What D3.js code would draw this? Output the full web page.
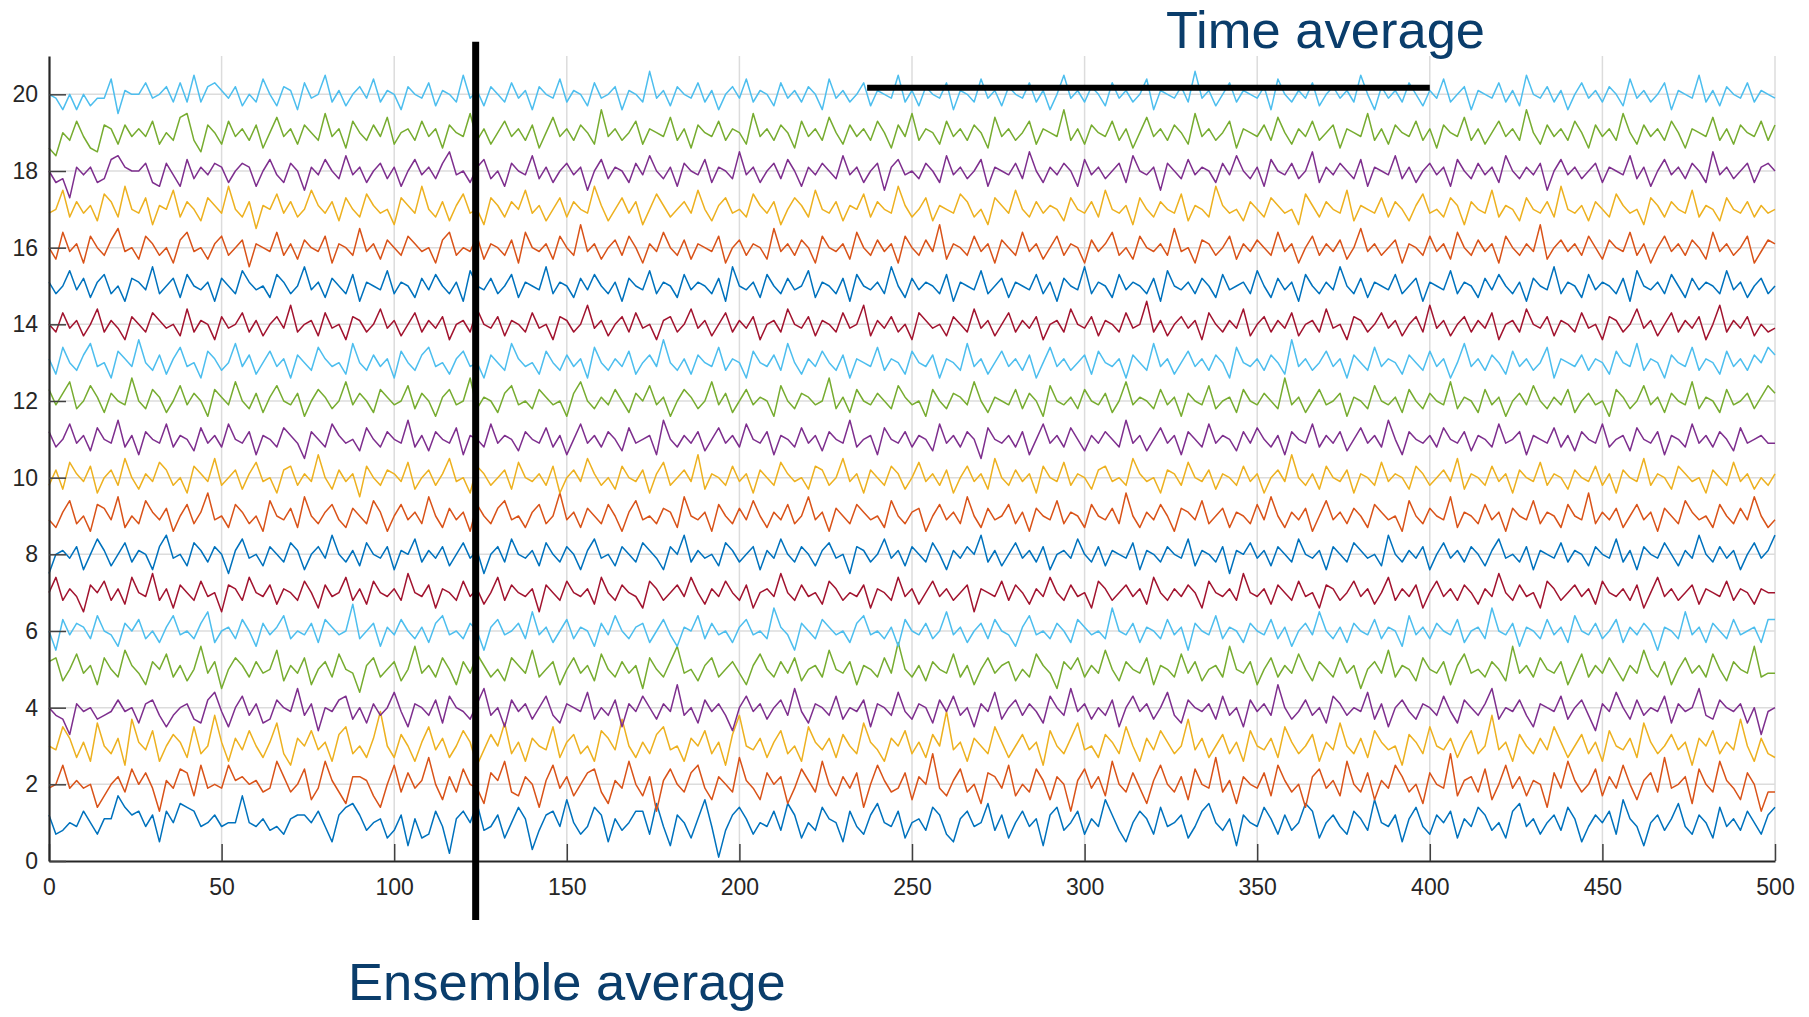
<!DOCTYPE html>
<html>
<head>
<meta charset="utf-8">
<script src="https://cdn.jsdelivr.net/npm/d3@7"></script>
<style>
  html, body { margin: 0; padding: 0; background: #fff; }
  svg { display: block; font-family: "Liberation Sans", Arial, sans-serif; }
</style>
</head>
<body>
<div id="grafico"></div>
<script>
// ticks
const xTicks = [0, 50, 100, 150, 200, 250, 300, 350, 400, 450, 500];
const yTicks = [0, 2, 4, 6, 8, 10, 12, 14, 16, 18, 20];

// annotations (data coords)
const ensembleX = 123.6;
const ensembleY = [21.37, -1.54];
const timeAvgX = [237, 400];
const timeAvgY = 20.17;

// series, one realisation per level
const s01 = [1.2,0.7,0.8,1.0,0.9,1.3,1.0,0.7,1.1,1.1,1.7,1.4,1.2,1.3,0.9,1.2,0.5,1.3,1.0,1.5,1.4,1.3,0.9,1.0,1.2,
0.9,1.0,1.0,1.7,1.0,0.9,1.1,0.8,0.9,0.7,1.1,1.2,1.2,1.0,1.3,0.9,0.5,1.2,1.4,1.5,1.2,0.8,1.0,1.1,0.6,
0.8,1.2,0.4,1.1,0.6,0.7,1.3,0.9,0.2,1.1,1.3,1.0,1.5,0.8,0.9,1.2,0.6,1.0,1.4,1.1,0.3,0.8,1.2,1.3,0.9,
1.6,1.0,0.7,0.9,1.4,1.2,0.5,1.1,0.8,1.0,1.3,1.3,0.7,1.5,0.9,0.4,1.2,1.0,0.6,1.1,1.6,0.9,0.1,0.8,1.2,
1.4,1.1,0.7,1.0,0.9,1.3,0.8,1.5,1.2,0.6,1.0,0.8,1.4,1.1,1.0,0.5,1.3,0.9,0.7,1.2,1.5,1.0,0.9,1.3,0.6,
1.0,1.1,0.8,1.4,1.2,0.7,0.5,1.1,1.3,0.9,1.0,1.5,0.8,1.2,0.6,1.0,1.3,0.9,1.1,0.4,1.2,1.4,0.8,1.0,1.3,
0.7,1.1,0.9,1.6,1.2,0.8,0.5,1.0,1.3,1.1,0.7,1.4,0.9,1.0,1.2,0.6,0.9,1.3,1.5,1.0,0.8,1.1,0.4,1.2,1.0,
0.9,1.4,1.1,0.7,1.2,0.8,1.0,1.5,1.3,0.6,1.0,1.2,0.9,0.7,1.3,1.1,0.8,1.6,1.0,0.9,1.2,0.5,1.1,1.4,0.9,
0.7,1.2,1.0,1.3,0.6,1.1,0.9,1.4,1.2,0.8,1.0,0.6,1.3,1.5,0.9,1.1,0.7,1.0,1.2,0.8,1.4,1.1,0.5,0.9,1.2,
1.0,1.3,0.7,1.6,1.1,0.9,0.4,1.0,1.2,0.8,1.1,1.5,0.9,0.7,1.2,1.0,0.6,1.4,0.9,1.1,0.8,1.3,1.0,0.7,1.2,
1.4];
const s02 = [1.9,2.0,2.5,1.9,2.1,1.9,2.0,1.4,1.7,2.0,2.2,1.8,2.4,2.0,2.3,1.9,1.3,2.1,1.9,2.4,2.3,1.7,2.5,1.9,2.0,
1.9,2.5,2.1,2.2,2.0,2.1,1.8,1.9,2.6,2.2,1.8,2.0,2.4,1.6,1.9,2.6,2.1,1.8,1.5,2.2,2.2,2.1,1.7,1.4,2.0,
2.5,1.8,2.3,1.9,2.1,2.7,2.0,1.6,2.2,1.8,2.4,2.0,1.9,1.5,2.3,2.1,2.6,1.8,1.7,2.2,2.0,1.4,2.1,2.5,1.9,
2.2,1.7,2.0,2.3,2.4,1.8,1.5,2.1,1.9,2.6,2.0,1.7,2.2,1.3,2.1,2.4,2.0,1.8,2.3,2.5,1.9,1.6,2.2,2.0,1.8,
2.7,2.1,1.9,1.6,2.3,2.0,2.2,1.5,1.9,2.4,2.1,1.8,2.6,2.0,1.7,2.2,1.9,2.3,1.4,2.0,2.5,2.1,1.8,1.9,2.3,
1.6,2.2,2.0,2.8,1.9,1.7,2.1,2.4,1.8,2.0,1.5,2.3,2.2,1.9,2.5,1.7,2.0,1.8,2.4,2.1,1.6,2.2,2.0,1.3,2.1,
2.4,1.9,2.2,1.7,2.6,2.0,1.8,2.3,1.9,1.5,2.1,2.5,2.0,1.8,2.2,1.6,2.4,2.0,1.9,2.7,1.8,2.1,1.5,2.2,2.0,
1.9,2.3,1.7,2.5,2.1,1.8,2.0,1.4,2.2,2.4,1.9,2.1,1.7,2.6,2.0,1.8,2.3,1.6,2.1,1.9,2.5,2.2,1.8,2.0,1.5,
2.3,2.0,1.9,2.8,1.7,2.1,2.2,1.8,2.4,1.6,2.0,2.5,1.9,2.2,1.7,2.1,2.0,1.4,2.3,1.9,2.6,2.1,1.8,2.0,2.4,
1.7,2.2,1.9,2.5,2.0,1.6,2.1,2.3,1.8,2.7,1.9,2.0,2.2,1.5,2.4,2.0,1.8,2.6,2.1,1.9,1.6,2.3,2.0,1.3,1.8,
1.8];
const s03 = [3.0,2.9,3.5,3.2,2.7,3.1,2.6,3.6,3.0,2.8,3.2,2.5,3.7,3.1,2.9,3.4,2.6,3.0,3.3,3.1,2.7,3.5,2.8,3.0,3.8,
3.1,2.6,3.2,2.9,3.4,3.0,2.7,3.1,3.6,2.8,2.5,3.2,3.0,3.4,2.9,3.1,2.6,3.3,3.5,2.8,3.0,2.7,3.2,3.9,3.0,
2.7,3.3,3.0,2.6,3.1,3.5,2.9,3.2,2.7,3.0,3.4,3.1,2.5,2.9,3.3,3.0,3.6,2.8,3.1,2.6,3.2,3.0,2.9,3.5,2.7,
3.1,3.3,2.8,3.0,2.6,3.4,3.2,2.9,3.7,3.0,2.7,3.1,2.8,3.3,3.5,2.9,3.0,2.6,3.2,3.0,3.4,2.8,3.1,2.5,3.3,
3.8,3.0,2.9,3.2,2.7,3.1,3.4,2.8,3.0,2.6,3.5,3.1,2.9,3.2,2.7,3.3,3.0,2.8,3.6,3.1,2.9,2.6,3.2,3.0,3.4,
2.8,3.1,2.7,3.3,3.0,3.9,2.9,3.1,2.6,3.2,3.0,2.8,3.5,3.1,2.7,3.0,3.3,2.9,3.1,2.5,3.4,3.0,2.8,3.2,3.6,
2.9,3.0,2.7,3.3,3.1,2.8,3.5,3.0,2.6,3.2,2.9,3.4,3.1,2.8,3.0,3.7,2.9,3.2,2.7,3.0,3.3,2.8,3.1,2.6,3.4,
3.0,2.9,3.2,2.7,3.5,3.1,2.8,3.0,3.3,2.6,3.1,2.9,3.6,3.0,2.8,3.2,2.7,3.4,3.1,2.9,3.0,2.5,3.3,3.1,2.8,
3.5,3.0,2.9,3.2,2.7,3.1,3.4,2.8,3.0,3.8,2.9,3.1,2.6,3.3,3.0,2.8,3.2,2.9,3.5,3.1,2.7,3.0,3.3,2.8,3.1,
2.6,3.4,3.0,2.9,3.2,2.7,3.6,3.1,2.8,3.0,3.3,2.9,3.1,2.5,3.2,3.0,3.4,2.8,3.1,2.9,3.7,3.0,2.6,3.2,2.8,
2.7];
const s04 = [4.0,3.8,3.7,3.3,4.1,3.9,4.0,3.7,3.8,3.9,4.2,3.9,4.0,3.6,4.1,4.2,3.8,3.5,3.8,4.0,4.1,3.7,3.6,4.2,4.4,
3.9,3.5,4.0,4.3,3.8,4.1,3.6,3.7,4.2,4.0,3.9,4.5,3.8,4.1,3.4,4.0,3.9,4.2,4.3,3.7,4.0,3.6,4.1,3.8,4.0,
4.4,3.9,3.5,4.1,4.0,3.8,4.2,3.6,4.3,4.0,3.9,3.7,4.1,4.5,3.8,4.0,3.5,4.2,3.9,4.1,3.7,4.0,4.3,3.8,3.6,
4.1,4.0,3.9,4.4,3.7,4.0,3.8,4.2,3.5,4.1,3.9,4.3,4.0,3.7,4.1,3.9,4.6,3.8,4.0,3.6,4.2,3.9,4.1,3.8,3.4,
4.0,4.3,3.9,4.1,3.7,4.0,4.2,3.8,4.5,3.9,3.6,4.1,4.0,3.8,4.3,3.7,4.0,3.9,4.2,3.5,4.1,4.0,3.8,4.4,3.9,
3.7,4.1,4.0,3.6,4.2,3.9,4.3,3.8,4.0,3.5,4.1,3.9,4.4,3.7,4.0,4.2,3.8,4.1,3.9,3.6,4.3,4.0,3.8,4.5,3.9,
4.1,3.7,4.0,3.8,4.2,3.5,4.0,4.3,3.9,4.1,3.7,4.0,4.4,3.8,3.6,4.2,4.0,3.9,4.1,3.7,4.3,3.8,4.0,3.5,4.2,
3.9,4.1,3.8,4.6,4.0,3.7,3.9,4.2,3.8,4.0,3.6,4.3,4.1,3.8,4.0,3.9,4.4,3.7,4.1,3.5,4.0,4.2,3.9,3.7,4.1,
4.0,3.8,4.3,3.9,3.6,4.2,4.0,3.8,4.1,4.5,3.7,4.0,3.9,4.2,3.8,3.5,4.1,4.0,3.9,4.3,3.7,4.0,4.2,3.8,3.4,
4.1,3.9,4.4,4.0,3.7,4.2,3.8,4.0,3.9,4.3,3.6,4.1,3.9,4.0,4.5,3.8,3.7,4.2,4.0,3.9,4.1,3.6,4.0,3.3,3.9,
4.0];
const s05 = [5.2,5.3,4.7,5.0,5.4,4.9,5.1,4.6,5.3,5.0,4.8,5.5,5.1,4.9,4.6,5.2,5.0,5.4,4.8,5.1,4.7,5.0,5.6,4.9,5.2,
4.5,5.0,5.3,5.1,4.8,5.2,4.9,5.0,5.5,4.7,5.1,4.9,5.3,4.6,5.0,5.2,4.8,5.4,5.0,4.9,4.4,5.1,5.3,4.8,5.0,
5.2,4.7,5.0,5.6,4.9,5.1,4.8,5.3,5.0,4.6,5.2,4.9,5.4,5.1,4.8,5.0,4.7,5.3,5.1,4.9,5.5,4.8,5.0,5.2,4.6,
5.0,5.3,4.9,5.1,4.7,5.4,5.0,4.8,5.2,4.9,5.1,4.5,5.3,5.0,4.8,5.2,5.6,4.9,5.0,4.7,5.1,5.3,4.8,5.0,5.2,
4.9,4.6,5.1,5.4,5.0,4.8,5.2,4.9,5.3,4.7,5.0,5.1,4.8,5.5,5.0,4.9,5.2,4.6,5.1,5.0,4.8,5.3,4.9,5.7,5.0,
4.8,5.1,4.7,5.2,5.0,4.9,5.4,4.8,5.1,4.6,5.0,5.3,4.9,5.1,5.2,4.7,5.0,4.8,5.4,5.1,4.9,4.5,5.2,5.0,5.3,
4.8,5.1,4.9,5.5,5.0,4.7,5.2,5.0,4.9,5.3,4.6,5.1,5.0,4.8,5.4,4.9,5.2,4.7,5.0,5.1,4.8,5.6,5.0,4.9,5.2,
4.6,5.0,5.3,4.8,5.1,4.9,5.4,5.0,4.7,5.2,5.0,4.8,5.3,4.9,5.1,4.5,5.0,5.2,4.9,5.5,4.8,5.1,5.0,4.7,5.3,
5.0,4.9,5.2,4.6,5.1,5.4,4.9,5.0,4.8,5.2,5.0,4.7,5.6,4.9,5.1,4.8,5.3,5.0,4.9,5.2,4.6,5.0,5.4,4.8,5.1,
4.9,5.3,5.0,4.7,5.1,4.9,5.5,5.0,4.8,5.2,4.6,5.0,5.3,4.9,5.1,4.8,5.4,5.0,4.7,5.2,5.0,4.9,5.6,4.8,4.9,
4.9];
const s06 = [6.0,5.5,6.3,5.9,6.2,6.1,5.8,6.4,6.0,5.9,5.6,6.2,6.0,6.3,5.8,6.0,5.7,6.1,6.4,5.9,6.0,5.8,6.2,6.5,5.7,
6.0,6.1,5.8,6.3,6.0,5.6,6.2,5.9,6.1,6.4,5.8,6.0,5.9,6.2,5.7,6.3,6.1,5.9,6.0,6.7,5.8,6.0,6.2,5.6,6.1,
5.9,6.3,6.0,5.8,6.1,5.7,6.2,6.4,5.9,6.0,5.8,6.2,6.0,5.5,6.1,6.3,5.9,6.0,6.2,5.8,6.5,5.9,6.1,5.7,6.0,
6.3,5.8,6.1,6.0,5.6,6.2,5.9,6.4,6.0,5.8,6.1,6.2,5.7,6.0,6.3,5.9,5.6,6.1,6.0,6.4,5.8,6.2,5.9,6.0,5.7,
6.1,6.3,5.9,6.0,5.8,6.6,6.1,5.9,5.5,6.2,6.0,5.8,6.3,6.1,5.9,6.0,5.7,6.2,6.4,5.9,6.0,5.8,6.1,5.6,6.3,
6.0,5.9,6.2,5.8,6.0,6.5,5.9,6.1,5.7,6.0,6.2,5.8,6.3,6.0,5.9,5.6,6.1,6.4,5.9,6.0,5.8,6.2,6.0,5.7,6.3,
6.1,5.9,6.0,5.8,6.6,6.0,5.9,6.2,5.7,6.1,6.0,5.8,6.3,5.9,6.1,5.5,6.2,6.0,5.9,6.4,5.8,6.1,6.0,5.7,6.2,
6.0,5.9,6.3,5.8,6.1,5.6,6.0,6.2,5.9,6.5,6.0,5.8,6.1,5.7,6.2,6.0,5.9,6.3,5.8,6.1,6.0,5.6,6.4,5.9,6.1,
5.8,6.2,6.0,5.9,6.3,5.7,6.0,6.1,5.8,6.6,6.0,5.9,6.2,5.6,6.1,6.0,5.8,6.3,5.9,6.1,5.7,6.4,6.0,5.9,6.2,
5.8,6.0,6.3,5.7,6.1,5.9,6.2,6.0,5.5,6.1,6.0,5.8,6.5,5.9,6.1,5.7,6.2,6.0,5.8,6.3,5.9,6.0,6.1,5.7,6.3,
6.3];
const s07 = [7.0,7.4,6.8,7.1,6.9,6.5,7.2,7.0,7.3,6.8,7.1,6.7,7.4,7.0,6.9,7.5,6.8,7.1,6.6,7.2,7.0,6.8,7.3,6.9,7.0,
6.5,7.2,7.1,6.8,7.4,7.0,6.9,7.2,6.7,7.1,7.0,6.8,7.3,7.0,6.6,7.2,6.9,7.0,7.4,6.8,7.1,6.7,7.3,7.0,6.9,
7.1,6.8,7.5,7.0,6.9,7.2,6.6,7.1,7.0,6.8,7.3,6.9,7.1,6.7,7.0,7.4,6.8,7.2,7.0,6.9,7.1,6.5,7.2,7.0,6.8,
7.3,7.0,6.9,7.1,6.7,7.4,7.0,6.8,7.2,7.0,6.9,6.6,7.3,7.1,6.8,7.0,7.2,6.9,7.4,7.0,6.7,7.1,6.9,7.3,7.0,
6.8,7.2,6.6,7.0,7.1,6.9,7.5,7.0,6.8,7.2,6.9,7.0,6.7,7.3,7.1,6.8,7.0,6.9,7.2,6.6,7.1,7.0,6.8,7.4,6.9,
7.1,6.7,7.0,7.3,6.9,7.1,6.8,7.0,7.2,6.5,7.1,7.0,6.9,7.3,6.8,7.2,7.0,6.7,7.1,6.9,7.4,7.0,6.8,7.2,6.9,
7.0,6.6,7.3,7.1,6.8,7.0,7.2,6.9,7.1,6.7,7.4,7.0,6.8,7.1,6.9,7.2,7.0,6.6,7.3,7.0,6.9,7.1,6.8,7.5,7.0,
6.9,7.1,6.7,7.2,7.0,6.8,7.3,6.9,7.0,6.6,7.2,7.1,6.8,7.0,7.3,6.9,7.1,6.7,7.0,7.4,6.8,7.1,6.9,7.2,6.6,
7.0,7.3,6.9,7.1,6.8,7.2,7.0,6.7,7.1,6.9,7.5,7.0,6.8,7.2,6.9,7.0,6.6,7.3,7.1,6.8,7.0,7.2,6.9,7.1,6.7,
7.3,7.0,6.9,7.1,6.8,7.2,6.6,7.0,7.4,6.9,7.1,6.8,7.0,7.2,6.7,7.1,7.0,6.9,7.3,6.8,7.1,7.0,6.7,7.1,7.0,
7.0];
const s08 = [7.5,8.0,8.1,7.9,8.2,7.6,8.0,8.4,8.1,7.7,8.0,8.3,7.8,8.1,8.0,7.6,8.2,8.5,7.9,8.0,7.7,8.3,8.1,7.8,8.2,
8.0,7.5,8.1,8.4,7.9,8.0,7.7,8.2,8.0,7.8,8.3,8.1,7.6,8.0,8.2,7.9,8.5,8.0,7.8,8.1,7.7,8.3,8.0,7.9,8.2,
7.6,8.1,8.0,8.4,7.8,8.1,7.9,8.2,7.7,8.0,8.3,7.9,8.1,7.5,8.0,8.2,7.8,8.4,8.0,7.9,8.1,7.7,8.3,8.0,7.8,
8.2,8.0,7.6,8.1,8.4,7.9,8.0,7.7,8.2,8.0,7.8,8.3,8.1,7.9,7.6,8.2,8.0,8.5,7.8,8.1,7.9,8.0,7.7,8.3,8.1,
7.8,8.0,8.2,7.6,8.1,7.9,8.4,8.0,7.8,8.2,8.0,7.7,8.1,8.3,7.9,8.0,7.5,8.2,8.1,7.8,8.0,8.4,7.9,8.1,7.7,
8.2,8.0,7.8,8.3,8.0,7.6,8.1,7.9,8.2,8.0,8.5,7.8,8.1,7.7,8.0,8.3,7.9,8.1,7.8,8.2,7.6,8.0,8.1,7.9,8.4,
8.0,7.8,8.2,7.7,8.1,8.0,7.9,8.3,7.6,8.1,8.0,7.8,8.2,8.0,7.9,8.4,7.7,8.1,8.0,7.8,8.2,7.5,8.1,8.0,8.3,
7.9,8.1,7.7,8.2,8.0,7.8,8.4,8.0,7.9,8.1,7.6,8.2,8.0,7.8,8.3,8.1,7.9,8.0,7.7,8.5,8.0,7.8,8.1,7.9,8.2,
7.6,8.0,8.3,7.9,8.1,7.8,8.2,8.0,7.7,8.1,8.4,7.9,8.0,7.8,8.2,7.6,8.1,8.0,7.9,8.3,7.8,8.1,8.0,7.7,8.2,
8.0,7.9,8.4,7.8,8.1,7.6,8.2,8.0,7.9,8.3,8.0,7.7,8.1,7.9,8.5,8.0,7.8,8.2,7.9,8.1,7.6,8.0,8.3,7.9,8.1,
8.5];
const s09 = [8.9,8.7,9.1,9.4,8.8,9.0,8.6,9.3,9.2,8.9,9.5,8.7,9.0,8.8,9.4,9.1,8.9,9.2,8.6,9.0,9.3,8.8,9.1,9.6,8.9,
9.0,8.7,9.3,9.1,8.8,9.0,8.6,9.4,9.0,8.9,9.2,8.7,9.5,9.0,8.8,9.1,9.3,8.9,8.7,9.2,9.0,8.8,9.4,9.1,8.6,
9.0,9.3,8.9,9.1,8.8,9.5,9.0,8.7,9.2,8.9,9.1,8.6,9.3,9.0,8.8,9.2,9.4,8.9,9.0,8.7,9.1,9.3,8.8,9.0,9.6,
8.9,9.1,8.7,9.2,9.0,8.8,9.3,9.0,8.6,9.1,9.4,8.9,9.0,8.8,9.2,9.1,8.7,9.5,9.0,8.9,9.1,8.6,9.3,9.0,8.8,
9.2,8.9,9.4,9.0,8.7,9.1,8.9,9.3,8.8,9.0,9.5,8.9,9.1,8.6,9.2,9.0,8.8,9.3,9.1,8.9,9.0,8.7,9.4,9.0,8.8,
9.1,9.2,8.6,9.0,9.3,8.9,9.1,8.8,9.5,9.0,8.7,9.2,8.9,9.0,9.3,8.8,9.1,8.6,9.2,9.0,8.9,9.4,8.8,9.1,9.0,
8.7,9.3,9.0,8.9,9.2,8.8,9.6,9.0,8.7,9.1,8.9,9.3,9.0,8.6,9.2,9.1,8.9,9.4,8.8,9.0,9.2,8.7,9.1,9.0,8.8,
9.3,8.9,9.5,9.0,8.7,9.1,8.9,9.2,8.6,9.0,9.4,8.9,9.1,8.8,9.2,9.0,8.7,9.3,9.1,8.9,9.0,8.6,9.4,9.0,8.8,
9.2,9.0,8.9,9.5,8.7,9.1,9.0,8.8,9.3,8.9,9.1,8.6,9.2,9.0,8.9,9.4,8.8,9.1,9.0,8.7,9.3,9.0,8.9,9.6,8.8,
9.1,8.9,9.2,8.7,9.0,9.3,8.9,9.1,8.6,9.2,9.0,8.8,9.4,9.1,8.9,9.0,8.7,9.3,9.0,8.8,9.2,8.9,9.5,9.0,8.7,
8.9];
const s10 = [9.8,10.2,9.7,10.4,10.1,9.9,10.3,9.6,10.0,10.2,9.8,10.5,10.0,9.7,10.1,9.9,10.4,10.2,9.8,10.0,9.6,10.3,10.1,9.9,10.5,
9.8,10.0,10.2,9.7,10.1,10.4,9.9,10.0,9.6,10.2,10.3,9.8,10.1,9.9,10.6,10.0,9.7,10.2,9.9,10.1,9.5,10.3,10.0,9.8,10.2,
10.1,9.9,10.4,9.7,10.0,10.2,9.8,10.1,10.5,9.9,10.0,9.6,10.3,10.1,9.8,10.0,10.2,9.7,10.4,10.0,9.9,10.1,9.8,10.3,9.6,
10.0,10.2,9.9,10.5,10.1,9.8,10.0,9.7,10.3,10.0,9.9,10.2,9.6,10.1,10.4,9.8,10.0,10.2,9.9,10.6,9.7,10.1,10.0,9.8,10.3,
9.9,10.1,9.6,10.2,10.0,9.8,10.4,10.1,9.9,10.0,9.7,10.3,10.2,9.8,10.0,10.5,9.9,10.1,9.6,10.2,10.0,9.8,10.3,10.1,9.7,
10.0,10.4,9.9,10.1,9.8,10.2,9.6,10.0,10.3,9.9,10.1,9.7,10.5,10.0,9.8,10.2,9.9,10.1,9.6,10.3,10.0,9.9,10.4,9.8,10.1,
10.0,9.7,10.2,10.3,9.9,10.0,9.8,10.5,10.1,9.9,10.0,9.6,10.2,10.1,9.8,10.4,10.0,9.9,10.2,9.7,10.1,10.0,9.8,10.3,9.9,
10.1,9.6,10.0,10.2,9.9,10.6,10.0,9.8,10.1,9.7,10.3,10.0,9.9,10.2,9.6,10.1,10.0,9.8,10.4,9.9,10.1,10.0,9.7,10.3,10.1,
9.8,10.0,10.2,9.9,10.5,9.7,10.1,10.0,9.8,10.3,9.9,10.1,9.6,10.2,10.0,9.9,10.4,9.8,10.1,10.0,9.7,10.2,10.0,9.9,10.3,
9.8,10.1,9.6,10.2,10.0,9.9,10.5,9.8,10.1,10.0,9.7,10.3,10.1,9.9,10.0,9.6,10.2,10.0,9.8,10.4,9.9,10.1,9.7,10.0,9.8,
10.1];
const s11 = [11.2,10.8,11.0,11.4,10.9,11.1,10.7,11.3,11.0,10.9,11.5,10.8,11.1,10.6,11.2,11.0,10.9,11.4,10.8,11.1,11.0,10.7,11.3,10.9,11.1,
10.8,11.4,11.0,10.9,11.2,10.6,11.1,11.0,10.8,11.3,11.1,10.9,10.5,11.2,11.0,10.8,11.4,11.1,10.9,11.0,10.7,11.3,11.0,10.8,11.2,
11.0,10.9,11.5,10.8,11.1,10.7,11.2,11.0,10.9,11.3,10.6,11.1,11.0,10.8,11.4,10.9,11.1,11.0,10.7,11.2,11.0,10.9,11.3,10.8,11.1,
10.6,11.0,11.4,10.9,11.1,10.8,11.2,11.0,10.7,11.3,10.9,11.0,11.1,10.6,11.5,11.0,10.8,11.1,10.9,11.2,10.7,11.0,11.3,10.9,11.1,
10.8,11.4,11.0,10.9,11.2,10.6,11.1,11.0,10.8,11.3,10.9,11.1,10.7,11.2,11.0,10.9,11.5,10.8,11.0,11.1,10.6,11.3,11.0,10.9,11.2,
10.8,11.1,11.0,10.7,11.4,10.9,11.1,10.8,11.2,11.0,10.5,11.3,11.0,10.9,11.1,10.8,11.2,10.6,11.0,11.4,10.9,11.1,10.8,11.3,11.0,
10.7,11.1,10.9,11.2,11.0,10.8,11.5,10.9,11.1,10.7,11.0,11.3,10.9,11.1,10.6,11.2,11.0,10.8,11.4,10.9,11.1,11.0,10.7,11.2,10.9,
11.3,11.0,10.8,11.1,10.6,11.2,11.0,10.9,11.4,10.8,11.1,10.9,11.2,10.7,11.0,11.3,10.9,11.1,10.8,11.5,11.0,10.6,11.2,11.0,10.9,
11.1,10.8,11.3,11.0,10.9,11.2,10.7,11.1,11.0,10.8,11.4,10.9,11.0,11.2,10.6,11.1,11.0,10.9,11.3,10.8,11.1,10.7,11.2,11.0,10.9,
11.4,10.8,11.0,11.1,10.7,11.3,11.0,10.9,11.2,10.6,11.1,11.0,10.8,11.4,10.9,11.1,10.8,11.2,11.0,10.7,11.3,10.9,11.0,11.1,10.9,
10.9];
const s12 = [12.3,11.9,12.2,12.5,11.8,12.0,12.4,12.1,11.7,12.2,12.0,11.9,12.6,12.0,11.8,12.3,12.1,11.7,12.0,12.4,11.9,12.2,12.0,11.6,12.3,
12.1,11.9,12.5,12.0,11.8,12.2,11.7,12.1,12.4,12.0,11.9,12.2,11.6,12.0,12.3,12.1,11.8,12.0,12.5,11.9,12.2,12.0,11.7,12.3,12.1,
11.9,12.0,12.4,11.8,12.2,12.0,11.6,12.1,12.3,11.9,12.0,12.6,11.8,12.1,12.0,11.7,12.2,12.4,11.9,12.0,11.8,12.3,12.1,11.9,12.0,
11.6,12.2,12.5,12.0,11.8,12.1,11.9,12.3,12.0,11.7,12.2,12.0,12.4,11.9,12.1,11.6,12.0,12.3,12.1,11.8,12.0,12.5,11.9,12.2,11.7,
12.0,12.3,11.9,12.1,12.0,11.6,12.4,12.0,11.8,12.2,12.1,11.9,12.0,12.6,11.8,12.1,11.7,12.3,12.0,11.9,12.2,12.0,11.8,12.4,12.1,
11.9,12.0,11.6,12.3,12.0,11.8,12.2,12.1,11.9,12.5,12.0,11.7,12.1,12.0,11.9,12.3,11.8,12.2,12.0,11.6,12.4,12.0,11.9,12.1,11.8,
12.3,12.0,11.9,12.2,11.7,12.0,12.5,11.9,12.1,12.0,11.8,12.3,11.9,12.1,11.6,12.2,12.0,11.9,12.4,11.8,12.0,12.1,11.7,12.3,12.0,
11.9,12.2,12.0,11.8,12.6,11.9,12.1,11.7,12.0,12.3,11.9,12.0,12.2,11.6,12.1,12.0,11.8,12.4,12.0,11.9,12.1,11.7,12.3,12.0,11.8,
12.2,12.0,11.9,12.5,11.8,12.1,12.0,11.7,12.3,11.9,12.1,11.6,12.0,12.2,11.9,12.4,12.0,11.8,12.1,11.9,12.3,11.7,12.0,12.2,11.9,
12.0,11.6,12.3,12.1,11.8,12.0,12.4,11.9,12.1,11.7,12.2,12.0,11.9,12.5,11.8,12.1,12.0,11.7,12.3,11.9,12.0,12.2,11.8,12.1,12.4,
12.2];
const s13 = [13.1,12.7,13.4,13.0,12.8,13.2,13.5,12.9,13.0,12.6,13.3,13.1,12.9,13.6,13.0,12.8,13.2,12.7,13.1,13.4,12.9,13.0,12.6,13.3,13.1,
12.8,13.0,13.5,12.9,13.2,12.7,13.0,13.3,12.9,13.1,12.6,13.2,13.0,12.8,13.4,13.1,12.9,13.0,12.7,13.5,13.0,12.8,13.2,12.9,13.1,
12.6,13.3,13.0,12.8,13.2,13.4,12.9,13.0,12.7,13.1,13.3,12.9,13.0,12.6,13.2,13.0,12.8,13.5,13.1,12.9,13.0,12.7,13.3,13.0,12.8,
13.2,12.9,13.1,12.6,13.4,13.0,12.8,13.1,12.9,13.3,12.7,13.0,13.2,12.9,13.6,13.0,12.8,13.1,12.7,13.2,13.0,12.9,13.4,12.8,13.1,
13.0,12.6,13.3,13.0,12.9,13.2,12.8,13.5,13.0,12.7,13.1,12.9,13.3,13.0,12.8,13.2,12.6,13.1,13.0,12.9,13.4,12.8,13.1,13.0,12.7,
13.3,13.0,12.9,13.2,12.6,13.1,13.0,12.8,13.5,12.9,13.1,12.7,13.0,13.3,12.9,13.1,12.8,13.2,12.6,13.0,13.4,12.9,13.1,12.8,13.0,
13.2,12.7,13.3,13.0,12.9,13.1,12.6,13.2,13.0,12.8,13.5,12.9,13.1,12.7,13.0,13.3,12.9,13.1,12.8,13.2,13.0,12.6,13.4,13.0,12.9,
13.1,12.8,13.2,13.0,12.7,13.6,12.9,13.1,12.8,13.0,13.3,12.9,13.1,12.6,13.2,13.0,12.8,13.4,12.9,13.1,13.0,12.7,13.2,13.0,12.8,
13.3,12.9,13.1,12.6,13.0,13.5,12.9,13.1,12.8,13.2,13.0,12.7,13.3,12.9,13.1,12.8,13.0,13.4,12.6,13.1,13.0,12.9,13.2,12.8,13.1,
13.0,12.7,13.3,13.0,12.9,13.5,12.8,13.1,13.0,12.6,13.2,13.0,12.9,13.4,12.8,13.1,13.0,12.7,13.3,12.9,13.1,12.8,13.2,13.0,13.4,
13.2];
const s14 = [14.0,13.8,14.3,13.9,14.1,13.7,14.0,14.4,13.8,14.1,13.9,13.6,14.2,14.0,13.8,14.3,14.1,13.9,14.0,13.7,14.4,13.8,14.1,14.0,13.6,
14.2,13.9,14.0,14.3,13.8,14.1,13.7,14.0,14.2,13.9,14.5,13.8,14.0,14.1,13.7,14.3,13.9,14.0,13.6,14.2,14.1,13.8,14.0,14.4,13.9,
14.1,13.7,14.0,14.3,13.8,14.1,13.9,14.2,13.6,14.0,14.1,13.8,14.4,14.0,13.9,14.2,13.7,14.1,14.0,13.8,14.3,13.9,14.0,13.6,14.2,
14.1,13.8,14.0,14.5,13.9,14.1,13.7,14.0,14.2,13.8,14.3,13.9,14.0,13.6,14.1,14.2,13.8,14.0,14.4,13.9,14.1,13.7,14.0,14.3,13.8,
14.1,13.9,14.2,13.6,14.0,14.1,13.8,14.4,14.0,13.9,14.2,13.7,14.1,14.0,13.8,14.3,13.9,14.0,14.5,13.7,14.1,13.9,14.2,13.8,14.0,
13.6,14.3,14.1,13.9,14.0,13.7,14.2,14.0,13.8,14.4,13.9,14.1,13.7,14.0,14.3,13.8,14.1,13.9,14.2,13.6,14.0,14.1,13.8,14.4,14.0,
13.9,14.2,13.7,14.1,14.0,13.8,14.3,13.9,14.0,14.6,13.8,14.1,13.7,14.0,14.2,13.9,14.1,13.6,14.3,14.0,13.8,14.1,13.9,14.4,13.7,
14.0,14.2,13.8,14.1,13.9,14.3,13.7,14.0,14.1,13.8,14.4,13.9,14.0,13.6,14.2,14.1,13.8,14.0,14.3,13.9,14.1,13.7,14.0,14.2,13.8,
14.5,13.9,14.1,13.7,14.0,14.2,13.8,14.1,13.9,14.3,13.6,14.0,14.1,13.8,14.4,14.0,13.9,14.2,13.7,14.1,14.0,13.8,14.3,13.9,14.0,
13.6,14.2,14.1,13.8,14.0,14.4,13.9,14.1,13.7,14.0,14.3,13.8,14.1,13.9,14.2,13.6,14.0,14.5,13.8,14.1,13.9,14.2,13.7,14.0,13.8,
13.9];
const s15 = [15.1,14.8,15.0,15.4,14.9,15.2,14.7,15.1,15.3,14.8,15.0,14.6,15.2,15.1,14.9,15.5,14.8,15.0,15.2,14.7,15.3,15.0,14.9,15.1,14.6,
15.2,15.0,14.8,15.4,15.1,14.9,15.0,14.7,15.3,15.1,14.8,15.0,15.5,14.9,15.1,14.7,15.2,15.0,14.8,15.3,14.6,15.1,15.0,14.9,15.4,
14.8,15.1,15.0,14.7,15.2,14.9,15.3,15.0,14.8,15.1,14.6,15.4,15.0,14.9,15.2,14.8,15.0,15.3,14.7,15.1,15.0,14.9,15.5,14.8,15.1,
15.0,14.7,15.2,14.9,15.3,15.0,14.8,15.1,14.6,15.2,15.0,14.9,15.4,14.8,15.1,15.0,14.7,15.3,14.9,15.1,15.0,14.8,15.2,14.6,15.5,
15.0,14.9,15.1,14.7,15.3,15.0,14.8,15.2,14.9,15.0,15.4,14.7,15.1,15.0,14.8,15.2,14.6,15.3,15.0,14.9,15.1,14.8,15.5,15.0,14.7,
15.2,14.9,15.1,15.0,14.8,15.3,14.6,15.1,15.0,14.9,15.4,14.8,15.0,15.2,14.7,15.1,15.0,14.9,15.3,14.8,15.1,14.6,15.2,15.0,14.9,
15.5,14.8,15.1,15.0,14.7,15.3,14.9,15.1,15.0,14.8,15.2,14.6,15.4,15.0,14.9,15.1,14.8,15.2,15.0,14.7,15.3,14.9,15.0,15.1,14.8,
15.4,15.0,14.7,15.2,14.9,15.1,14.6,15.3,15.0,14.8,15.1,14.9,15.5,15.0,14.8,15.2,14.7,15.1,15.0,14.9,15.3,14.8,15.0,15.2,14.6,
15.1,15.0,14.9,15.4,14.8,15.1,15.0,14.7,15.2,14.9,15.3,15.0,14.8,15.1,14.6,15.2,15.0,14.9,15.5,14.8,15.1,15.0,14.7,15.3,14.9,
15.1,15.0,14.8,15.2,14.6,15.4,15.0,14.9,15.1,14.8,15.3,15.0,14.7,15.2,14.9,15.1,15.0,14.8,15.4,14.9,15.1,14.7,15.0,15.2,14.8,
15.0];
const s16 = [16.0,15.7,16.4,15.9,16.1,15.6,16.3,16.0,15.8,16.2,16.5,15.9,16.0,15.7,16.3,16.1,15.8,16.0,15.6,16.2,16.4,15.9,16.0,15.7,16.1,
16.3,15.8,16.0,16.2,15.5,16.1,16.0,15.9,16.4,15.8,16.1,15.7,16.2,16.0,15.9,16.3,15.6,16.1,16.0,15.8,16.5,15.9,16.1,15.7,16.2,
16.0,15.8,16.3,16.1,15.9,16.0,15.6,16.2,16.4,15.8,16.0,15.9,16.3,15.7,16.1,16.0,15.8,16.2,15.6,16.4,16.0,15.9,16.1,15.7,16.3,
16.0,15.8,16.6,15.9,16.1,15.7,16.0,16.2,15.8,16.3,16.0,15.6,16.1,15.9,16.4,16.0,15.8,16.2,15.7,16.1,16.0,15.9,16.3,15.6,16.0,
16.2,15.8,16.1,16.0,15.7,16.5,15.9,16.1,15.8,16.2,16.0,15.6,16.3,16.0,15.9,16.1,15.7,16.4,16.0,15.8,16.2,15.9,16.1,15.6,16.3,
16.0,15.8,16.2,15.9,16.6,15.7,16.1,16.0,15.8,16.3,15.9,16.1,15.6,16.2,16.0,15.8,16.4,15.9,16.1,15.7,16.0,16.3,15.8,16.1,16.0,
15.6,16.2,15.9,16.1,16.4,15.8,16.0,15.7,16.3,16.0,15.9,16.1,15.8,16.5,15.9,16.0,15.6,16.2,16.1,15.8,16.0,16.3,15.7,16.1,15.9,
16.2,16.0,15.8,16.4,15.9,16.1,15.6,16.0,16.3,15.8,16.1,15.9,16.2,15.7,16.0,16.5,15.9,16.1,15.8,16.0,16.2,15.6,16.1,16.0,15.8,
16.3,15.9,16.1,15.7,16.4,16.0,15.8,16.2,15.9,16.1,15.6,16.3,16.0,15.8,16.1,15.9,16.6,15.7,16.0,16.2,15.9,16.1,15.8,16.3,16.0,
15.7,16.2,16.0,15.9,16.4,15.8,16.1,15.6,16.0,16.3,15.9,16.1,15.8,16.2,16.0,15.7,16.4,15.9,16.1,15.8,16.0,16.3,15.6,15.9,16.2,
16.1];
const s17 = [16.9,17.0,17.5,16.8,17.2,16.9,17.1,16.7,17.4,17.2,16.8,17.6,17.0,16.9,17.3,16.6,17.1,17.0,17.5,16.8,17.2,17.0,16.7,17.3,17.1,
16.9,17.6,17.0,16.8,17.2,16.5,17.1,17.0,17.4,16.9,17.2,16.8,17.0,17.5,17.1,16.9,17.2,16.7,17.3,17.0,16.8,17.4,17.1,16.9,17.0,
16.6,17.3,17.1,16.9,17.6,17.0,16.8,17.2,16.7,17.1,17.4,16.9,17.0,16.6,17.3,17.1,16.8,17.2,17.0,17.5,16.9,17.1,16.7,17.0,17.3,
16.8,17.2,17.0,16.9,17.6,17.1,16.7,17.0,17.3,16.9,17.2,16.6,17.0,17.4,17.1,16.8,17.0,17.2,16.9,17.5,17.0,16.7,17.1,17.3,16.9,
17.0,16.8,17.4,17.1,16.9,17.2,16.6,17.0,17.3,17.1,16.8,17.5,17.0,16.9,17.2,16.7,17.1,17.0,17.4,16.8,17.2,17.0,16.9,17.6,17.1,
16.8,17.0,17.3,16.7,17.1,17.0,16.9,17.4,17.2,16.8,17.0,16.6,17.3,17.1,16.9,17.5,17.0,16.8,17.2,16.9,17.1,17.0,16.7,17.3,17.0,
16.9,17.2,16.8,17.5,17.0,16.9,17.1,16.6,17.3,17.0,16.8,17.2,17.0,16.9,17.4,16.7,17.1,17.0,16.8,17.6,17.1,16.9,17.0,16.7,17.2,
17.0,16.8,17.3,17.1,16.9,17.0,16.6,17.4,17.1,16.8,17.2,17.0,16.9,17.5,16.7,17.1,17.0,16.9,17.3,16.8,17.2,17.0,16.7,17.1,17.4,
16.9,17.0,16.8,17.3,17.1,16.6,17.2,17.0,16.9,17.5,16.8,17.1,17.0,16.7,17.3,17.0,16.9,17.2,16.8,17.6,17.0,16.9,17.1,16.7,17.2,
17.0,16.8,17.4,17.1,16.9,17.0,16.6,17.3,17.1,16.8,17.2,17.0,16.9,17.5,16.8,17.1,17.0,16.7,17.3,17.0,16.9,17.2,16.8,17.1,16.9,
17.0];
const s18 = [18.0,17.7,17.8,17.3,18.1,17.9,18.1,17.7,17.8,18.3,18.4,18.1,18.0,18.0,18.2,17.7,17.6,18.2,17.9,17.6,18.3,17.8,18.1,17.9,18.2,
18.1,17.7,18.0,18.2,18.1,17.6,18.0,18.3,17.9,17.7,18.2,18.0,17.5,18.1,17.9,18.3,18.0,17.8,18.4,17.9,18.1,17.7,18.0,18.2,17.8,
18.1,17.6,18.0,18.3,17.9,18.1,17.8,18.2,18.5,17.9,18.0,17.7,18.1,18.3,17.8,18.0,17.6,18.2,18.0,17.9,18.4,17.8,18.1,17.7,18.0,
18.2,17.9,18.1,17.5,18.0,18.3,17.8,18.1,18.0,17.7,18.2,17.9,18.4,18.0,17.8,18.1,17.6,18.2,18.0,17.9,18.3,17.7,18.1,18.0,17.8,
18.5,17.9,18.1,17.7,18.0,18.2,17.8,18.3,18.0,17.6,18.1,17.9,18.2,18.0,17.8,18.4,17.9,18.1,17.7,18.0,18.2,17.5,18.1,18.3,17.9,
18.0,17.8,18.2,18.0,17.7,18.4,17.9,18.1,17.8,18.0,18.3,17.6,18.1,18.0,17.9,18.2,17.8,18.5,18.0,17.7,18.1,17.9,18.2,18.0,17.6,
18.3,17.9,18.1,17.8,18.0,18.2,17.7,18.4,18.0,17.9,18.1,17.5,18.2,18.0,17.8,18.3,17.9,18.1,18.0,17.7,18.2,17.9,18.4,18.0,17.8,
18.1,17.6,18.3,18.0,17.9,18.2,17.8,18.0,18.5,17.7,18.1,17.9,18.2,18.0,17.8,18.3,17.6,18.1,18.0,17.9,18.4,17.8,18.1,17.7,18.0,
18.2,17.9,18.1,17.6,18.3,18.0,17.8,18.2,17.9,18.1,17.7,18.4,18.0,17.8,18.1,17.9,18.2,17.5,18.0,18.3,17.9,18.1,17.8,18.0,18.2,
17.7,18.1,18.0,17.9,18.4,17.8,18.1,17.6,18.0,18.3,17.9,18.1,17.8,18.2,18.0,17.7,18.5,17.9,18.1,17.8,18.0,18.2,17.7,18.1,18.2,
18.0];
const s19 = [18.6,18.4,19.0,18.8,19.3,18.9,18.6,18.5,19.2,19.1,18.7,19.2,18.9,19.1,18.9,19.3,18.7,19.0,18.8,19.4,19.5,18.8,18.5,19.2,19.0,
18.7,19.3,18.9,19.1,18.8,19.2,18.6,19.0,19.4,18.9,19.1,18.7,19.2,19.0,18.8,19.5,18.9,19.1,18.6,19.3,19.0,18.8,19.2,18.9,19.4,
18.7,19.0,19.1,18.8,19.3,18.9,19.1,18.6,19.2,19.0,18.9,19.5,18.8,19.1,18.7,19.0,19.3,18.9,19.1,18.8,19.2,18.6,19.0,19.4,18.9,
19.1,18.8,19.2,19.0,18.7,19.6,18.9,19.1,18.8,19.0,19.3,18.7,19.1,19.0,18.9,19.4,18.8,19.1,18.6,19.2,19.0,18.9,19.3,18.8,19.1,
19.0,18.7,19.5,18.9,19.1,18.8,19.2,19.0,18.6,19.3,18.9,19.1,18.8,19.4,19.0,18.7,19.2,18.9,19.1,18.8,19.3,19.0,18.6,19.2,18.9,
19.5,18.8,19.1,19.0,18.7,19.3,18.9,19.1,18.8,19.2,19.0,18.6,19.4,18.9,19.1,18.8,19.0,19.3,18.7,19.1,19.0,18.9,19.6,18.8,19.1,
18.7,19.2,19.0,18.9,19.3,18.8,19.1,18.6,19.0,19.4,18.9,19.1,18.8,19.2,19.0,18.7,19.5,18.9,19.1,18.8,19.0,19.3,18.6,19.1,19.0,
18.9,19.2,18.8,19.4,19.0,18.7,19.1,18.9,19.3,18.8,19.0,19.2,18.6,19.1,19.0,18.9,19.5,18.8,19.1,18.7,19.2,19.0,18.9,19.3,18.8,
19.1,18.6,19.2,19.0,18.9,19.4,18.8,19.1,18.7,19.0,19.3,18.9,19.1,18.8,19.6,19.0,18.7,19.2,18.9,19.1,18.8,19.3,19.0,18.6,19.2,
18.9,19.1,18.8,19.5,19.0,18.7,19.2,18.9,19.1,18.8,19.3,19.0,18.6,19.1,19.0,18.9,19.4,18.8,19.1,18.7,19.2,19.0,18.9,19.3,18.8,
19.2];
const s20 = [20.0,19.9,19.6,20.0,19.6,20.0,19.7,19.9,19.9,20.4,19.5,20.1,20.0,20.0,20.3,19.9,20.0,20.2,19.8,20.3,19.8,20.5,19.8,20.2,20.3,
20.1,19.9,20.2,19.7,20.0,19.8,20.4,20.0,19.7,20.2,20.1,19.6,20.3,19.9,20.0,20.5,19.8,20.1,19.7,20.0,20.2,19.9,20.4,19.8,20.1,
20.0,19.6,20.2,20.0,19.9,20.3,19.7,20.1,20.0,19.8,20.5,19.9,20.1,19.7,20.2,20.0,19.8,20.3,19.9,20.1,19.6,20.2,20.0,19.9,20.4,
19.8,20.1,20.0,19.7,20.3,19.9,20.0,20.2,19.6,20.1,20.0,19.8,20.6,19.9,20.1,19.7,20.2,20.0,19.9,20.3,19.8,20.1,19.6,20.0,20.2,
19.9,20.4,19.8,20.1,20.0,19.7,20.3,19.9,20.1,19.8,20.2,20.0,19.6,20.4,19.9,20.1,19.8,20.0,20.3,19.7,20.1,20.0,19.9,20.5,19.8,
20.1,19.7,20.2,20.0,19.9,20.3,19.6,20.1,20.0,19.8,20.4,19.9,20.1,19.7,20.2,20.0,19.9,20.3,19.8,20.1,19.6,20.0,20.5,19.9,20.1,
19.8,20.2,20.0,19.7,20.3,19.9,20.1,19.8,20.0,20.4,19.6,20.1,20.0,19.9,20.2,19.8,20.6,19.9,20.1,19.7,20.0,20.3,19.8,20.1,20.0,
19.9,20.2,19.6,20.4,20.0,19.8,20.1,19.9,20.3,19.7,20.0,20.2,19.9,20.1,19.8,20.5,20.0,19.6,20.2,19.9,20.1,19.8,20.3,20.0,19.7,
20.1,19.9,20.4,19.8,20.0,20.2,19.6,20.1,20.0,19.9,20.3,19.8,20.1,19.7,20.5,20.0,19.9,20.2,19.8,20.1,19.6,20.0,20.3,19.9,20.1,
19.8,20.2,20.0,19.7,20.4,19.9,20.1,19.8,20.0,20.3,19.6,20.1,20.0,19.9,20.5,19.8,20.1,19.7,20.2,20.0,19.9,20.3,19.8,20.1,20.0,
19.9];

const series = [s01, s02, s03, s04, s05, s06, s07, s08, s09, s10,
                s11, s12, s13, s14, s15, s16, s17, s18, s19, s20];
const colors = ["#0072BD", "#D95319", "#EDB120", "#7E2F8E", "#77AC30", "#4DBEEE", "#A2142F"];

const width = 1809;
const height = 1017;
const margin = { top: 56, right: 34, bottom: 156, left: 49 };

const svg = d3.select("#grafico")
  .append("svg")
  .attr("width", width)
  .attr("height", height);

const x = d3.scaleLinear().domain([0, 500]).range([margin.left, width - margin.right]);
const y = d3.scaleLinear().domain([0, 21]).range([height - margin.bottom, margin.top]);

// grid
svg.append("g")
  .selectAll("line")
  .data(xTicks.slice(1))
  .join("line")
  .attr("x1", d => x(d)).attr("x2", d => x(d))
  .attr("y1", y(0)).attr("y2", y(21))
  .attr("stroke", "#dcdcdc").attr("stroke-width", 1.5);
svg.append("g")
  .selectAll("line")
  .data(yTicks.slice(1))
  .join("line")
  .attr("x1", x(0)).attr("x2", x(500))
  .attr("y1", d => y(d)).attr("y2", d => y(d))
  .attr("stroke", "#dcdcdc").attr("stroke-width", 1.5);

// lines
series.forEach((s, i) => {
  const t = d3.scaleLinear().domain([0, s.length - 1]).range([0, 500]);
  const line = d3.line().x((d, j) => x(t(j))).y(d => y(d));
  svg.append("path")
    .datum(s)
    .attr("fill", "none")
    .attr("stroke", colors[i % colors.length])
    .attr("stroke-width", 1.5)
    .attr("stroke-linejoin", "round")
    .attr("d", line);
});

// axes
const xAxis = svg.append("g")
  .attr("transform", `translate(0,${y(0)})`)
  .call(d3.axisBottom(x).tickValues(xTicks).tickSize(-17).tickSizeOuter(0).tickPadding(18));
const yAxis = svg.append("g")
  .attr("transform", `translate(${x(0)},0)`)
  .call(d3.axisLeft(y).tickValues(yTicks).tickSize(-17).tickSizeOuter(0).tickPadding(11));
[xAxis, yAxis].forEach(a => {
  a.select(".domain").attr("stroke", "#262626").attr("stroke-width", 2.2);
  a.selectAll(".tick line").attr("stroke", "#404040").attr("stroke-width", 1.5);
  a.selectAll(".tick text")
    .attr("fill", "#262626")
    .style("font-size", "23px")
    .style("font-family", "'Liberation Sans', Arial, sans-serif");
});

// annotations
svg.append("line")
  .attr("x1", x(ensembleX)).attr("x2", x(ensembleX))
  .attr("y1", y(ensembleY[0])).attr("y2", y(ensembleY[1]))
  .attr("stroke", "#000").attr("stroke-width", 7);
svg.append("line")
  .attr("x1", x(timeAvgX[0])).attr("x2", x(timeAvgX[1]))
  .attr("y1", y(timeAvgY)).attr("y2", y(timeAvgY))
  .attr("stroke", "#000").attr("stroke-width", 6);

svg.append("text")
  .attr("x", 1166).attr("y", 48)
  .attr("fill", "#0a3d6b")
  .style("font-size", "52.5px")
  .text("Time average");
svg.append("text")
  .attr("x", 348).attr("y", 1000)
  .attr("fill", "#0a3d6b")
  .style("font-size", "52.5px")
  .text("Ensemble average");
</script>
</body>
</html>
